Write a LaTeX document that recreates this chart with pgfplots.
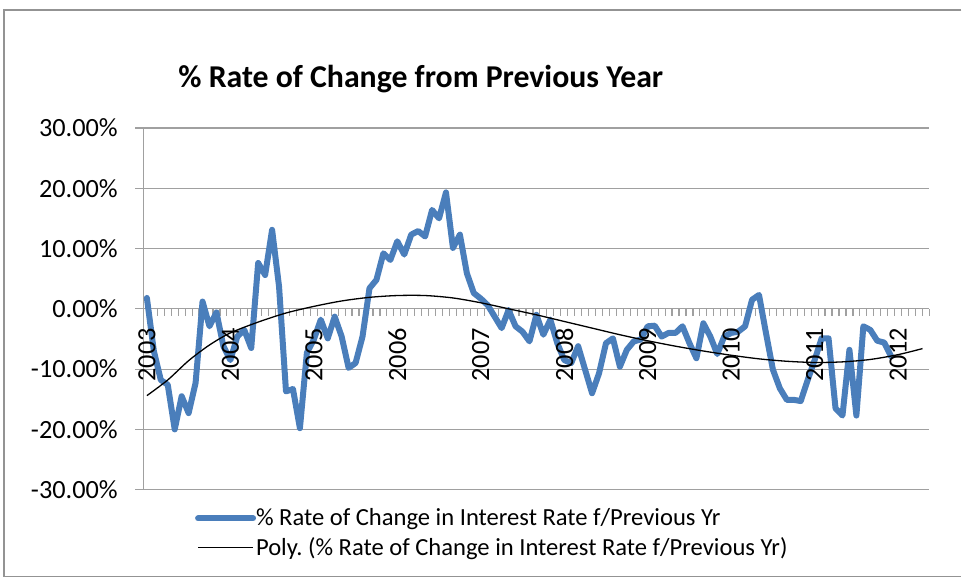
\documentclass[border=0pt]{standalone}
\usepackage{fontspec}
\setmainfont{Carlito}
\usepackage{pgfplots}
\pgfplotsset{compat=1.18}
\usepackage{pgfplotstable}
\definecolor{exblue}{HTML}{4A7EBB}
\definecolor{gridgray}{HTML}{A0A0A0}
\frenchspacing
\pgfplotstableread{
idx val
0 1.8
1 -7.0
2 -11.8
3 -12.6
4 -20.0
5 -14.5
6 -17.3
7 -12.3
8 1.2
9 -2.9
10 -0.6
11 -6.2
12 -8.5
13 -4.6
14 -3.5
15 -6.5
16 7.6
17 5.6
18 13.1
19 3.7
20 -13.7
21 -13.3
22 -19.8
23 -7.3
24 -5.1
25 -1.8
26 -4.9
27 -1.3
28 -4.6
29 -9.8
30 -9.0
31 -4.6
32 3.4
33 4.8
34 9.2
35 8.1
36 11.2
37 9.0
38 12.3
39 12.9
40 12.0
41 16.4
42 15.0
43 19.3
44 10.1
45 12.3
46 5.9
47 2.6
48 1.7
49 0.6
50 -1.3
51 -3.2
52 -0.2
53 -2.9
54 -3.8
55 -5.4
56 -1.0
57 -4.3
58 -1.8
59 -5.7
60 -8.5
61 -9.0
62 -6.2
63 -10.1
64 -14.0
65 -10.7
66 -5.7
67 -4.9
68 -9.6
69 -6.8
70 -5.4
71 -5.1
72 -2.9
73 -2.8
74 -4.6
75 -4.0
76 -4.0
77 -2.9
78 -5.7
79 -8.2
80 -2.4
81 -4.6
82 -7.5
83 -4.6
84 -4.0
85 -3.8
86 -2.9
87 1.5
88 2.3
89 -4.0
90 -10.1
91 -13.2
92 -15.1
93 -15.1
94 -15.3
95 -11.8
96 -8.5
97 -4.9
98 -4.9
99 -16.5
100 -17.7
101 -6.8
102 -17.7
103 -2.9
104 -3.5
105 -5.3
106 -5.6
107 -7.9
}\ratedata
\pgfplotstableread{
idx val
0 -14.4
3 -11.8
6 -8.6
9 -6.0
12 -4.0
16 -2.2
20 -0.7
24 0.4
28 1.3
32 1.9
36 2.2
40 2.2
44 1.8
48 1.0
52 0.0
56 -1.0
60 -2.1
64 -3.2
68 -4.3
72 -5.3
76 -6.2
80 -7.0
84 -7.7
88 -8.3
92 -8.7
96 -8.9
100 -8.8
104 -8.4
108 -7.6
111.5 -6.6
}\trenddata
\pgfplotsset{
  mybase/.style={
    at={(143.5bp,88bp)}, anchor=south west,
    scale only axis, width=786.5bp, height=362bp,
    xmin=-0.5, xmax=112.5, ymin=-30, ymax=30,
    axis x line*=middle, axis y line*=left,
    tick align=outside,
    tick label style={font=\fontsize{26.3bp}{30bp}\selectfont, black},
    xtick={0,12,...,108},
    xticklabels={2003,2004,2005,2006,2007,2008,2009,2010,2011,2012},
    xticklabel style={rotate=90, anchor=east, inner sep=0pt, xshift=-15bp},
    every major x tick/.style={draw=none},
  }
}
\begin{document}
\begin{tikzpicture}
\draw[gray!85, line width=1.2bp] (962bp,568bp) -- (4bp,568bp) -- (4bp,1bp) -- (962bp,1bp);
\node[anchor=base west, font=\bfseries\fontsize{31.8bp}{36bp}\selectfont] at (175bp,490bp) {\% Rate of Change from Previous Year};
\begin{axis}[
  mybase,
  axis line style={gridgray, line width=1.2bp},
  xticklabels={},
  minor xtick={-0.5,0.5,...,112.5},
  ytick={-30,-20,...,30},
  yticklabels={-30.00\%,-20.00\%,-10.00\%,0.00\%,10.00\%,20.00\%,30.00\%},
  major tick length=8bp, minor tick length=7bp,
  every minor x tick/.style={gridgray, line width=1.2bp},
  every y tick/.style={gridgray, line width=1.2bp},
  ymajorgrids, grid style={gridgray, line width=1.2bp},
  yticklabel style={anchor=east, inner sep=0pt, xshift=-17.5bp},
  legend style={at={(0.0655,-0.1252)}, anchor=west, draw=none, fill=none,
    inner sep=0pt, /tikz/row sep=6.3bp,
    font=\fontsize{24.6bp}{28bp}\selectfont,
    /tikz/nodes={inner sep=0pt, text height=17bp, text depth=6bp},
    /tikz/every even column/.append style={column sep=3bp}},
  legend cell align=left,
  legend image code/.code={\draw[#1] (0bp,2bp) -- (55bp,2bp);},
  clip=false,
]
\addplot[exblue, line width=6bp, line join=round, line cap=round] table[x=idx, y=val] {\ratedata};
\addlegendentry{\% Rate of Change in Interest Rate f/Previous Yr}
\addplot[black, line width=1.3bp, smooth] table[x=idx, y=val] {\trenddata};
\addlegendentry{Poly. (\% Rate of Change in Interest Rate f/Previous Yr)}
\end{axis}
\begin{axis}[
  mybase,
  axis line style={draw=none},
  ytick=\empty,
]
\end{axis}
\useasboundingbox (0,0) rectangle (962bp,578bp);
\end{tikzpicture}
\end{document}
